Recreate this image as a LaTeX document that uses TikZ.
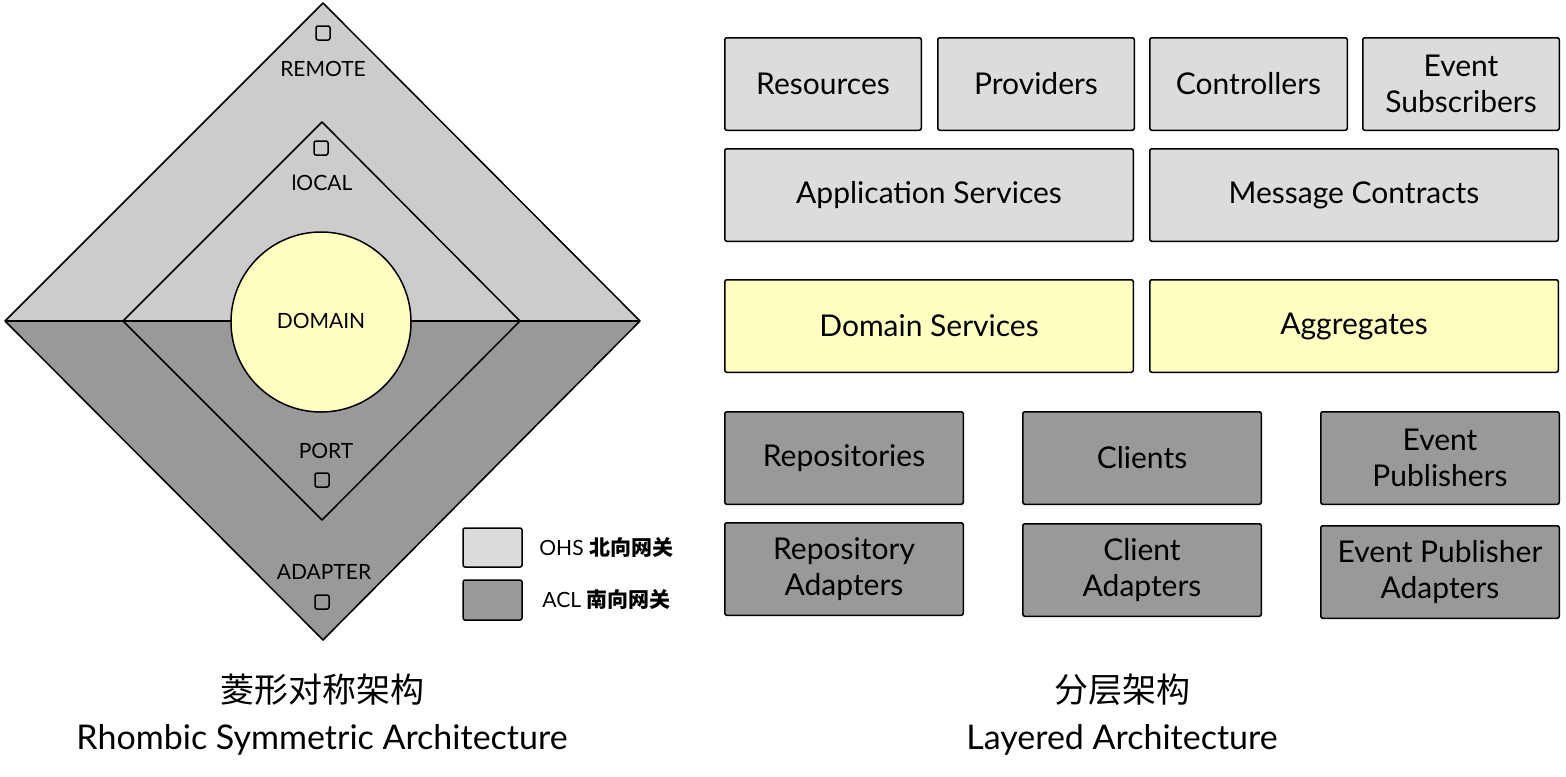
\documentclass[tikz,border=0pt]{standalone}
\usepackage{fontspec}
\setmainfont{Lato}
\newfontfamily\cjk{Noto Sans CJK SC}
\begin{document}
\begin{tikzpicture}[x=0.5pt,y=-0.5pt,line width=0.75pt,
  box/.style={draw,rounded corners=1pt,align=center,font=\fontsize{15}{18}\selectfont,inner sep=0pt},
  lt/.style={box,fill=lightbox}, yl/.style={box,fill=yellowbox}, dk/.style={box,fill=darkbox},
  sq/.style={draw,rounded corners=1pt,minimum size=7pt,inner sep=0pt},
  lbl/.style={font=\fontsize{10.5}{12}\selectfont},
  captxt/.style={font=\fontsize{17}{20}\selectfont}]
\definecolor{lightbox}{HTML}{DCDCDC}
\definecolor{lightr}{HTML}{CCCCCC}
\definecolor{darkbox}{HTML}{999999}
\definecolor{yellowbox}{HTML}{FFFFC2}
\useasboundingbox (0,0) rectangle (1566,776);
% outer rhombus
\coordinate (OT) at (323,3); \coordinate (OL) at (5,321); \coordinate (OR) at (640,321); \coordinate (OB) at (323,640);
\fill[lightr] (OL)--(OT)--(OR)--cycle;
\fill[darkbox] (OL)--(OB)--(OR)--cycle;
\draw[line join=round] (OT)--(OR)--(OB)--(OL)--cycle;
\draw (OL)--(OR);
% inner rhombus
\coordinate (IT) at (322,122); \coordinate (IL) at (123,321); \coordinate (IR) at (520,321); \coordinate (IB) at (322,520);
\draw[line join=round] (IT)--(IR)--(IB)--(IL)--cycle;
\node[circle,draw,fill=yellowbox,minimum size=90pt,inner sep=0pt] (dom) at (321,322) {};
\node[lbl] at (321,321) {DOMAIN};
\node[sq] (s1) at (323,33) {};
\node[sq] (s2) at (321,148) {};
\node[sq] (s3) at (322,480) {};
\node[sq] (s4) at (322,602) {};
\node[lbl] (l1) at (323,69) {REMOTE};
\node[lbl] (l2) at (322,183) {lOCAL};
\node[lbl] (l3) at (326,451) {PORT};
\node[lbl] (l4) at (324,572) {ADAPTER};
% legend
\draw[fill=lightbox,rounded corners=1pt] (463,528) rectangle (522,567);
\draw[fill=darkbox,rounded corners=1pt] (463,580) rectangle (522,620);
\node[lbl,anchor=west] at (532,548) {OHS {\cjk\bfseries 北向网关}};
\node[lbl,anchor=west] at (535,600) {ACL {\cjk\bfseries 南向网关}};
% captions
\node[captxt] at (322,690) {\cjk 菱形对称架构};
\node[captxt] at (322,740) {Rhombic Symmetric Architecture};
\node[captxt] at (1122,690) {\cjk 分层架构};
\node[captxt] at (1122,740) {Layered Architecture};
% right boxes
\newcommand{\bx}[6]{\node[#1,minimum width=#4*0.5pt-0.75pt,minimum height=#5*0.5pt-0.75pt] at (#2,#3) {#6};}
\bx{lt}{823}{84}{198}{94}{Resources}
\bx{lt}{1036}{84}{198}{94}{Providers}
\bx{lt}{1248.5}{84}{199}{94}{Controllers}
\bx{lt}{1461}{84}{198}{94}{Event\\Subscribers}
\bx{lt}{929}{195}{410}{94}{Application Services}
\bx{lt}{1354}{195}{410}{94}{Message Contracts}
\bx{yl}{929}{326}{410}{94}{Domain Services}
\bx{yl}{1354}{326}{410}{94}{Aggregates}
\bx{dk}{844}{458}{240}{94}{Repositories}
\bx{dk}{1142}{458}{240}{94}{Clients}
\bx{dk}{1440}{458}{240}{94}{Event\\Publishers}
\bx{dk}{844}{569}{240}{94}{Repository\\Adapters}
\bx{dk}{1142}{570}{240}{94}{Client\\Adapters}
\bx{dk}{1440}{572}{240}{94}{Event Publisher\\Adapters}
\end{tikzpicture}
\end{document}
